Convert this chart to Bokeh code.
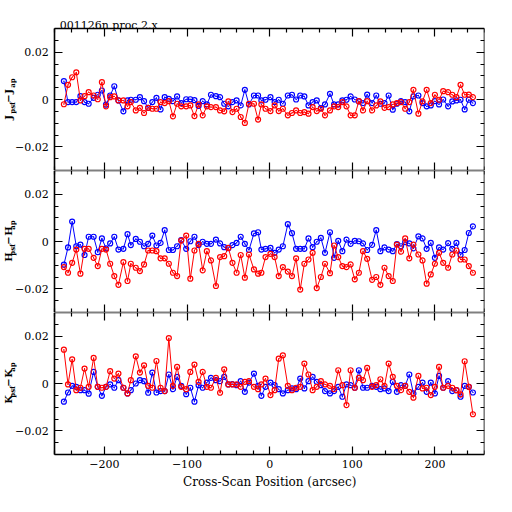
import math
from bokeh.plotting import figure
from bokeh.models import LinearAxis, FixedTicker, Range1d, Label, CustomJSTickFormatter
from bokeh.layouts import column
from bokeh.embed import file_html
from bokeh.resources import INLINE

# ---------------- data ----------------
x_pos = [-249, -244, -239, -234, -229, -224, -219, -213, -208, -203, -198, -193, -188, -183, -177, -172,
         -168, -162, -157, -152, -147, -142, -137, -132, -127, -122, -117, -112, -107, -101, -96, -91,
         -86, -81, -76, -71, -65, -60, -55, -50, -45, -40, -35, -30, -25, -19, -14, -10, -5,
         1, 6, 11, 16, 22, 27, 32, 37, 42, 47, 52, 57, 62, 67, 73, 78, 83, 88, 93, 98, 103, 108, 113,
         118, 124, 129, 134, 139, 144, 149, 154, 159, 164, 169, 174, 180, 185, 190, 195, 200, 205, 210,
         216, 221, 226, 231, 236, 241, 246]

j_blue = [0.0078, -0.0011, -0.0011, -0.0011, 0.0014, -0.0011, -0.0018, 0.0007, 0.002, 0.0038, -0.0022, 0.0017,
          0.0056, -0.0004, -0.005, -0.0004, -0.0001, -0.0001, 0.001, -0.0007, -0.0035, -0.0011, 0.0007, -0.0042,
          0.001, 0.0003, -0.0007, 0.0013, -0.0015, 0.0001, 0.0001, -0.0003, -0.0027, -0.0007, -0.0021, 0.002,
          0.0014, 0.001, -0.0018, -0.0029, -0.0011, -0.0004, -0.0025, 0.0041, -0.0021, 0.0017, 0.0017, -0.0004,
          -0.0001, 0.001, -0.0011, -0.0001, -0.0018, 0.0017, 0.002, 0.0, 0.0017, 0.0013, -0.0025, -0.0011,
          -0.0004, -0.0036, -0.0021, 0.0024, -0.0021, -0.0021, -0.0004, -0.0001, 0.0013, 0.0, -0.0008, -0.0015,
          0.0021, -0.0015, 0.0017, -0.0018, -0.0015, 0.0017, -0.0043, -0.0018, -0.0007, -0.0011, -0.005, 0.0013,
          0.0017, -0.0015, -0.0029, -0.0025, -0.0007, -0.0021, 0.0, -0.0029, -0.0008, -0.0004, -0.0001, -0.0042,
          -0.0001, -0.0015]
j_red = [-0.002, 0.0062, 0.0094, 0.0115, -0.0004, 0.0014, 0.0031, 0.0017, 0.0001, 0.0073, -0.0029, 0.001,
         0.0013, -0.0004, -0.0004, -0.0029, -0.0011, -0.0046, -0.0035, -0.0057, -0.0035, -0.0039, -0.0039, -0.0011,
         -0.0015, -0.0007, -0.0071, -0.0018, -0.0029, -0.0029, -0.0025, -0.007, -0.0021, -0.0067, -0.0029, -0.0032,
         -0.0032, -0.0046, -0.005, -0.0008, -0.0053, -0.0039, -0.0074, -0.0099, -0.0018, -0.0018, -0.0085,
         -0.0021,
         -0.0039, -0.0049, -0.0025, -0.0049, -0.0039, -0.0067, -0.0057, -0.0046, -0.0057, -0.0053, -0.006, -0.0032,
         -0.0049, -0.0039, -0.0067, -0.0046, -0.0029, -0.0032, -0.0011, -0.0029, -0.0067, -0.0067, -0.0007, -0.0046,
         -0.0007, -0.0046, -0.0025, -0.0008, -0.0035, -0.0032, -0.0021, -0.0015, -0.0011, -0.0039, -0.0011, 0.0041,
         -0.006, -0.0008, 0.0041, -0.0015, 0.002, -0.0001, 0.0035, 0.0031, 0.002, 0.001, 0.0062, 0.002, 0.0021,
         0.001]

h_blue = [-0.0098, -0.0025, 0.0084, -0.002, -0.0013, -0.0057, 0.002, 0.002, -0.0045, 0.0013, -0.0029, -0.0008,
          0.002, -0.0034, -0.0031, 0.0031, -0.0015, 0.0011, -0.0001, -0.002, -0.001, 0.0025, -0.0017, -0.0006,
          0.0048, -0.0036, -0.0036, -0.002, 0.0006, -0.0031, 0.0001, 0.002, -0.0015, -0.0001, -0.001, -0.001,
          0.0008, -0.0008, -0.0024, -0.0028, -0.0015, -0.0006, 0.002, -0.001, -0.0036, 0.0034, 0.0039, -0.0034,
          -0.0031,
          -0.0027, -0.0048, -0.0034, -0.002, 0.0073, 0.0035, -0.0031, -0.0031, -0.0031, 0.0013, -0.0024, -0.0001,
          0.0015, -0.0048, 0.0039, -0.0069, 0.0003, -0.0041, 0.0008, -0.001, 0.0003, 0.0001, -0.0008, -0.0036,
          -0.0014, 0.0048, -0.0041, -0.0025, -0.0034, -0.0041, -0.0011, -0.002, -0.0003, -0.0008, -0.0029, 0.0022,
          0.0013, -0.0031, -0.0006, -0.0069, -0.0025, -0.0034, -0.0007, -0.0031, -0.0006, -0.0057, -0.0036, 0.0036,
          0.0064]
h_red = [-0.0108, -0.0132, -0.009, -0.0034, -0.0136, -0.0031, -0.0031, -0.0069, -0.0104, -0.0031, -0.0034, -0.0094,
         -0.0146, -0.0183, -0.0087, -0.0167, -0.0094, -0.0111, -0.0125, -0.0097, -0.0038, -0.0038, -0.0041, -0.0071,
         -0.0071, -0.0094, -0.0132, -0.0146, 0.0004, 0.0025, -0.0157, -0.0038, -0.001, -0.0122, -0.0041, -0.008,
         -0.0188, -0.0066, -0.0062, -0.0027, -0.009, -0.0132, -0.0057, -0.0153, -0.0055, -0.0118, -0.0136, -0.0132,
         -0.0066,
         -0.0052, -0.0066, -0.0146, -0.0108, -0.0127, -0.0146, -0.0071, -0.0203, -0.0094, -0.0076, -0.0048, -0.0197,
         -0.015, -0.0094, -0.0134, -0.0017, -0.0066, -0.0104, -0.0108, -0.0097, -0.016, -0.0132, -0.0041, -0.0073,
         -0.0162, -0.015, -0.0183, -0.0111, -0.0146, -0.0167, -0.0013, -0.0043, 0.0013, -0.0071, -0.0013, -0.0055,
         -0.008, -0.0178, -0.0139, -0.0094, -0.0048, -0.009, -0.0111, -0.0055, -0.0038, -0.0076, -0.0076, -0.0104,
         -0.0132]

k_blue = [-0.0077, -0.0038, -0.001, -0.0014, -0.0028, -0.0028, -0.0043, 0.0049, -0.0014, -0.0052, -0.0014, -0.0004,
          -0.0018, 0.0014, -0.0018, -0.0042, -0.0028, 0.0, 0.0014, 0.001, -0.0039, 0.0046, -0.0038, -0.0032,
          -0.0032, 0.0038, -0.0024, 0.0028, -0.001, -0.0045, -0.0018, -0.0077, -0.0007, -0.0018, 0.0004, 0.0024,
          0.0014, 0.001, 0.0028, -0.0004, -0.0003, -0.0007, 0.001, -0.0035, 0.0004, 0.0042, -0.001, -0.0052,
          -0.0014,
          0.0004, -0.0007, -0.0024, -0.0042, -0.0028, -0.0021, -0.0024, 0.0021, -0.0021, 0.001, 0.0028, 0.0007,
          -0.0007, -0.0032, -0.0042, -0.0032, -0.0014, -0.0056, -0.0004, -0.0007, -0.0018, 0.0056, -0.0018, -0.0018,
          -0.001, -0.0014, -0.0024, -0.0021, -0.0032, 0.0007, -0.0035, -0.0007, -0.001, 0.0038, -0.0042, -0.0014,
          0.0004, -0.0035, 0.0004, -0.0042, 0.0032, -0.0018, 0.001, -0.0032, -0.0028, -0.0056, -0.001, -0.0014,
          -0.0038]
k_red = [0.0143, -0.0004, 0.0102, -0.0028, -0.0018, 0.0063, -0.0014, 0.0108, -0.0014, -0.0018, -0.0014, 0.0052,
         0.0021, 0.0042, -0.0018, -0.0042, 0.0014, 0.0115, 0.0046, 0.0077, -0.001, -0.0018, 0.0095, -0.0018,
         -0.0032, 0.0192, -0.001, 0.007, -0.0014, -0.0024, 0.0049, 0.008, 0.0007, 0.0049, -0.0014, -0.0018,
         0.0024, -0.0039, 0.006, -0.0004, -0.0004, -0.0004, -0.0014, 0.0007, 0.001, -0.0014, -0.0024, -0.0004,
         0.0021,
         -0.0049, -0.0028, 0.0105, 0.0119, -0.001, -0.0028, -0.0018, -0.0014, 0.0084, 0.0038, -0.0028, -0.0014,
         0.001, -0.0004, -0.001, -0.0024, 0.0056, -0.0007, -0.0091, 0.0056, -0.0018, 0.0024, 0.0014, 0.0066,
         -0.0014, -0.0007, 0.0018, -0.001, 0.0084, 0.0028, -0.001, -0.0028, -0.001, -0.0035, -0.006, 0.0032,
         -0.0021, -0.0018, -0.0049, -0.0014, 0.007, -0.0018, -0.001, -0.0018, -0.0028, -0.0046, 0.0094, -0.0014,
         -0.013]

band_labels = [("J", "psf", "J", "ap"), ("H", "psf", "H", "ap"), ("K", "psf", "K", "ap")]
title_text = "001126n proc 2.x"
x_title = "Cross-Scan Position (arcsec)"

x_major = [-200, -100, 0, 100, 200]
x_minor = [v for v in range(-260, 261, 20) if v % 100 != 0]
y_major = [-0.02, 0.0, 0.02]
y_minor = [k * 0.005 for k in range(-5, 6) if k % 4 != 0]

XMIN, XMAX = -260, 260
YMIN, YMAX = -0.03, 0.03

FONT = "DejaVu Serif"
FW = 484          # frame spans from the left edge of the page
BOX_H = 142       # height of one panel box in px
LEFT_PAD = 54.3   # px between frame left and box left
XSTART = XMIN - LEFT_PAD * (XMAX - XMIN) / (FW - LEFT_PAD)
TOP_PAD = 28      # room above the first box for the title
BOT_PAD = 50      # room below the last box for tick labels and the axis title
PER_PX = (YMAX - YMIN) / BOX_H

yfmt = CustomJSTickFormatter(code="""
if (Math.abs(tick) < 1e-9) { return "0"; }
return tick.toFixed(2).replace("-", "\u2212");
""")
xfmt = CustomJSTickFormatter(code="""
return tick.toFixed(0).replace("-", "\u2212");
""")


def tick_axis(loc, ticks, length, line, bounds):
    ax = LinearAxis(ticker=FixedTicker(ticks=[], minor_ticks=ticks), fixed_location=loc, bounds=bounds)
    ax.minor_tick_in = length
    ax.minor_tick_out = 0
    ax.major_tick_in = 0
    ax.major_tick_out = 0
    ax.minor_tick_line_color = "black"
    ax.minor_tick_line_width = 1.2
    if line:
        ax.axis_line_color = "black"
        ax.axis_line_width = 1.6
    else:
        ax.axis_line_color = None
    return ax


def labeled_axis(loc, ticks, minors, fmt, bounds):
    ax = LinearAxis(ticker=FixedTicker(ticks=ticks, minor_ticks=minors), fixed_location=loc,
                    bounds=bounds, formatter=fmt)
    ax.axis_line_color = "black"
    ax.axis_line_width = 1.6
    ax.major_tick_in = 8
    ax.major_tick_out = 0
    ax.minor_tick_in = 4
    ax.minor_tick_out = 0
    ax.major_tick_line_color = "black"
    ax.minor_tick_line_color = "black"
    ax.major_tick_line_width = 1.2
    ax.minor_tick_line_width = 1.2
    ax.major_label_text_font = FONT
    ax.major_label_text_font_size = "11px"
    ax.major_label_text_color = "black"
    ax.major_label_standoff = 6
    return ax


def make_panel(yb, yr, lab, top=False, bottom=False):
    fh = BOX_H + (TOP_PAD if top else 0) + (BOT_PAD if bottom else 0)
    ytop = YMAX + (TOP_PAD * PER_PX if top else 0)
    ybot = YMIN - (BOT_PAD * PER_PX if bottom else 0)
    p = figure(frame_width=FW, frame_height=fh,
               x_range=Range1d(XSTART, XMAX), y_range=Range1d(ybot, ytop),
               output_backend="svg", toolbar_location=None,
               x_axis_location=None, y_axis_location=None,
               min_border_left=0, min_border_right=512 - FW - 1,
               min_border_top=0, min_border_bottom=0)
    p.grid.visible = False
    p.outline_line_color = None
    p.background_fill_color = "white"
    p.border_fill_color = "white"

    yb_ = (YMIN, YMAX)
    xb_ = (XMIN, XMAX)
    # left: labelled
    p.add_layout(labeled_axis(XMIN, y_major, y_minor, yfmt, yb_), "left")
    # right: mirrored ticks
    p.add_layout(tick_axis(XMAX, y_major, 8, True, yb_), "right")
    p.add_layout(tick_axis(XMAX, y_minor, 4, False, yb_), "right")
    # top
    p.add_layout(tick_axis(YMAX, x_major, 8, True, xb_), "above")
    p.add_layout(tick_axis(YMAX, x_minor, 4, False, xb_), "above")
    # bottom
    if bottom:
        ax = labeled_axis(YMIN, x_major, x_minor, xfmt, xb_)
        ax.major_label_standoff = 5
        p.add_layout(ax, "below")
        p.add_layout(Label(x=0, y=BOT_PAD - 27, x_units="data", y_units="screen",
                           text=x_title, text_font=FONT, text_font_size="12px",
                           text_color="black", text_align="center", text_baseline="alphabetic"))
    else:
        p.add_layout(tick_axis(YMIN, x_major, 8, True, xb_), "below")
        p.add_layout(tick_axis(YMIN, x_minor, 4, False, xb_), "below")

    p.line(x_pos, yb, line_color="blue", line_width=1)
    p.scatter(x_pos, yb, marker="circle_dot", size=5, fill_color=None,
              line_color="blue", line_width=1.2)
    p.line(x_pos, yr, line_color="red", line_width=1)
    p.scatter(x_pos, yr, marker="circle_dot", size=5, fill_color=None,
              line_color="red", line_width=1.2)

    # y label with subscripts, rotated, centred on the zero line
    zero_y = BOX_H / 2 + (BOT_PAD if bottom else 0)
    parts = [(lab[0], 10, 0, 6.0), (lab[1], 7, 4, 11.0), ("\u2212", 10, 0, 9.0),
             (lab[2], 10, 0, 6.0), (lab[3], 7, 4, 8.5)]
    total = sum(pp[3] for pp in parts)
    ycur = zero_y - total / 2
    for txt, sz, sub, w in parts:
        p.add_layout(Label(x=8 + sub, y=ycur, x_units="screen", y_units="screen",
                           text=txt, angle=math.pi / 2, text_font=FONT,
                           text_font_size=f"{sz}px", text_font_style="bold",
                           text_color="black", text_align="left",
                           text_baseline="alphabetic"))
        ycur += w

    if top:
        p.add_layout(Label(x=LEFT_PAD + 5, y=BOX_H + 3, x_units="screen", y_units="screen",
                           text=title_text, text_font=FONT, text_font_size="11px",
                           text_color="black", text_align="left", text_baseline="alphabetic"))
    return p


p1 = make_panel(j_blue, j_red, band_labels[0], top=True)
p2 = make_panel(h_blue, h_red, band_labels[1])
p3 = make_panel(k_blue, k_red, band_labels[2], bottom=True)

layout = column(p1, p2, p3, spacing=0)
open("out.html", "w").write(file_html(layout, INLINE))
